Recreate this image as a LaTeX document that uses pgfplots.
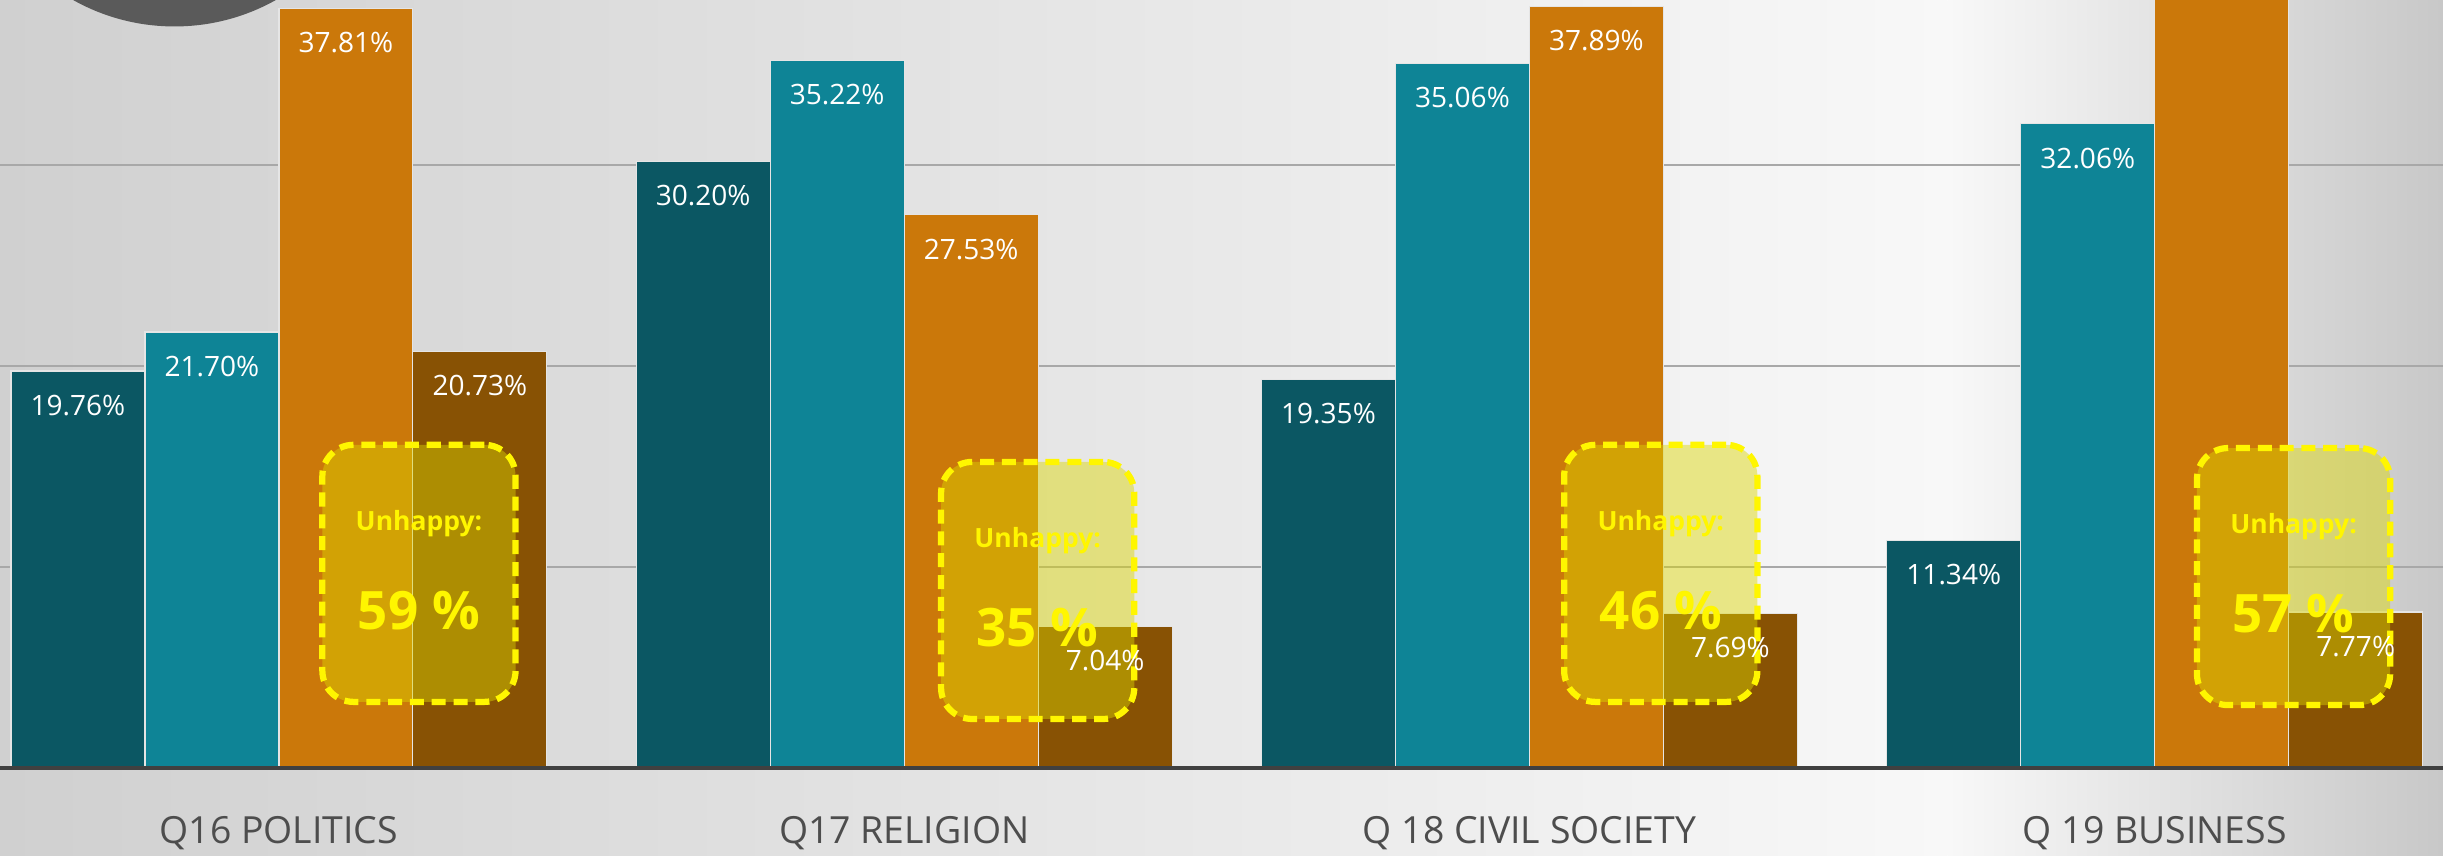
\documentclass[border=0pt]{standalone}
\usepackage{pgfplots}
\pgfplotsset{compat=1.18}
\usepackage{fontspec}
\setmainfont{Open Sans}
\definecolor{c1}{HTML}{0B5763}
\definecolor{c2}{HTML}{0E8496}
\definecolor{c3}{HTML}{CB780A}
\definecolor{c4}{HTML}{885204}
\definecolor{bgl}{HTML}{D0D0D0}
\definecolor{bgm}{HTML}{F8F8F8}
\definecolor{bgr}{HTML}{C8C8C8}
\definecolor{yel}{HTML}{FFF600}
\definecolor{boxfill}{HTML}{DCD700}
\definecolor{gridc}{HTML}{A8A8A8}
\definecolor{labc}{HTML}{4D4D4D}
\definecolor{circ}{HTML}{5A5A5A}
\definecolor{axc}{HTML}{404040}
\newcommand{\unhappy}[3]{%
  \node[draw=yel, line width=2pt, dash pattern=on 4.5pt off 2.5pt, rounded corners=10pt,
        fill=boxfill, fill opacity=0.45, minimum width=62pt, minimum height=82.5pt]
        at (axis cs:#1,#2) {};
  \node[text=yel, font=\bfseries\fontsize{8.5}{10}\selectfont, yshift=16pt] at (axis cs:#1,#2) {Unhappy:};
  \node[text=yel, font=\bfseries\fontsize{17}{20}\selectfont, yshift=-12pt] at (axis cs:#1,#2) {#3\ \%};
}
\begin{document}
\begin{tikzpicture}
\useasboundingbox (0,0) rectangle (784pt,274.5pt);
\clip (0,0) rectangle (784pt,274.5pt);
\shade[left color=bgl, right color=bgm] (0,0) rectangle (625pt,274.5pt);
\shade[left color=bgm, right color=bgr] (625pt,0) rectangle (784pt,274.5pt);
\fill[circ] (56pt,332.5pt) circle (66.5pt);
\begin{axis}[at={(0,28pt)}, anchor=south west, scale only axis,
  width=784pt, height=246.5pt,
  xmin=-0.446, xmax=3.461, ymin=0, ymax=38.22,
  clip=false,
  axis line style={draw=none},
  major tick length=0pt,
  ytick={10,20,30}, yticklabels={}, ymajorgrids,
  grid style={color=gridc, line width=0.5pt},
  xtick={0,1,2,3},
  xticklabels={Q16 POLITICS, Q17 RELIGION, Q 18 CIVIL SOCIETY, Q 19 BUSINESS},
  xticklabel style={font=\fontsize{12}{14}\selectfont, text=labc, anchor=center, yshift=-21pt},
  ybar, bar width=43pt,
  every axis plot/.append style={draw=white!80!gray, line width=0.4pt},
  point meta=explicit symbolic,
  nodes near coords={\pgfplotspointmeta},
  every node near coord/.append style={anchor=center, yshift=-11pt, text=white, font=\fontsize{9}{10}\selectfont},
]
\addplot[fill=c1, bar shift=-64.5pt] coordinates {(0,19.76) [19.76\%] (1,30.20) [30.20\%] (2,19.35) [19.35\%] (3,11.34) [11.34\%]};
\addplot[fill=c2, bar shift=-21.5pt] coordinates {(0,21.70) [21.70\%] (1,35.22) [35.22\%] (2,35.06) [35.06\%] (3,32.06) [32.06\%]};
\addplot[fill=c3, bar shift=21.5pt] coordinates {(0,37.81) [37.81\%] (1,27.53) [27.53\%] (2,37.89) [37.89\%] (3,48.83) []};
\addplot[fill=c4, bar shift=64.5pt] coordinates {(0,20.73) [20.73\%] (1,7.04) [7.04\%] (2,7.69) [7.69\%] (3,7.77) [7.77\%]};
\draw[axc, line width=1.4pt] (axis cs:-0.446,0) -- (axis cs:3.461,0);
\unhappy{0.224}{9.69}{59}
\unhappy{1.2135}{8.84}{35}
\unhappy{2.210}{9.69}{46}
\unhappy{3.222}{9.53}{57}
\end{axis}
\end{tikzpicture}
\end{document}
